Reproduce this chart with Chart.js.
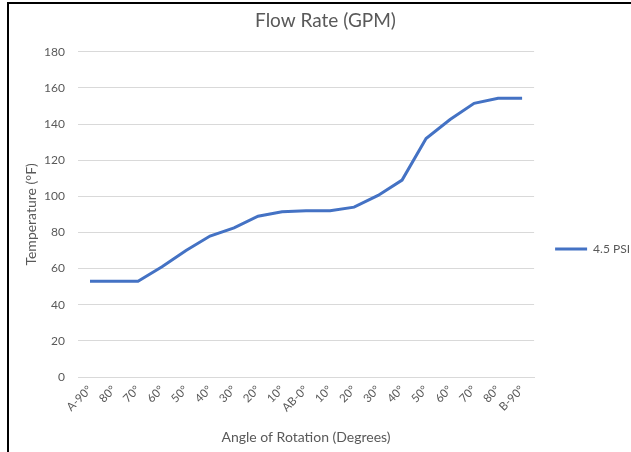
<!DOCTYPE html>
<html>
<head>
<meta charset="utf-8">
<script src="https://cdn.jsdelivr.net/npm/chart.js@4/dist/chart.umd.min.js"></script>
<style>
  html, body { margin: 0; padding: 0; background: #fff; }
  #frame {
    position: absolute; left: 7px; top: 2px;
    width: 622px; height: 448px;
    border-left: 2px solid #000; border-top: 2px solid #000;
  }
  #chart { display: block; }
</style>
</head>
<body>
<div id="frame"><canvas id="chart" width="622" height="448"></canvas></div>
<script>
/* Flow rate chart — temperature vs angle of rotation */

const angleLabels = ['A-90°', '80°', '70°', '60°', '50°', '40°', '30°', '20°', '10°', 'AB-0°',
  '10°', '20°', '30°', '40°', '50°', '60°', '70°', '80°', 'B-90°'];
const psi45 = [53, 53, 53, 61, 70, 78, 82.5, 89, 91.5, 92, 92, 94, 100.5, 109, 132, 142.5, 151.5, 154.3, 154.3];
const yTicks = [0, 20, 40, 60, 80, 100, 120, 140, 160, 180];

const TEXT = '#595959';
const GRID = '#d9d9d9';
const FONT = 'Lato';

// nudge the legend right after layout, so the plot keeps its width
const legendNudge = {
  id: 'legendNudge',
  afterLayout(chart) {
    chart.legend.left += 9;
    chart.legend.right += 9;
  },
};

new Chart(document.getElementById('chart'), {
  type: 'line',
  data: {
    labels: angleLabels,
    datasets: [{
      label: '4.5 PSI',
      data: psi45,
      borderColor: '#4472c4',
      backgroundColor: '#4472c4',
      borderWidth: 3,
      pointRadius: 0,
      tension: 0,
      pointStyle: 'line',
    }],
  },
  plugins: [legendNudge],
  options: {
    responsive: false,
    animation: false,
    layout: { padding: { left: 11, right: 0, top: 0, bottom: 0 } },
    plugins: {
      title: {
        display: true,
        text: 'Flow Rate (GPM)',
        color: TEXT,
        font: { family: FONT, size: 19, weight: 'normal' },
        padding: { top: 5, bottom: 20 },
      },
      legend: {
        position: 'right',
        title: {
          display: true,
          text: ' ',
          font: { family: FONT, size: 12 },
          padding: { top: 0, bottom: 27.6 },
        },
        labels: {
          color: TEXT,
          font: { family: FONT, size: 12 },
          usePointStyle: true,
          pointStyleWidth: 32,
          padding: 12,
        },
      },
      tooltip: { enabled: false },
    },
    scales: {
      x: {
        offset: true,
        afterFit: function(scale) { scale.height = 75; },
        grid: { display: false, drawTicks: false },
        border: { display: true, color: GRID, width: 1 },
        ticks: {
          color: TEXT,
          font: { family: FONT, size: 11.5 },
          minRotation: 45,
          maxRotation: 45,
          autoSkip: false,
          padding: 6,
        },
        title: {
          display: true,
          text: 'Angle of Rotation (Degrees)',
          color: TEXT,
          font: { family: FONT, size: 14 },
          padding: { top: 0, bottom: 6 },
        },
      },
      y: {
        min: 0,
        max: 180,
        afterFit: function(scale) { scale.width = 58; },
        afterBuildTicks: function(scale) {
          scale.ticks = yTicks.map(function(v) { return { value: v }; });
        },
        grid: { color: GRID, drawTicks: false },
        border: { display: false },
        ticks: {
          color: TEXT,
          font: { family: FONT, size: 12 },
          padding: 13,
        },
        title: {
          display: true,
          text: 'Temperature (°F)',
          color: TEXT,
          font: { family: FONT, size: 14 },
          padding: { top: 3, bottom: 0 },
        },
      },
    },
  },
});
</script>
</body>
</html>
